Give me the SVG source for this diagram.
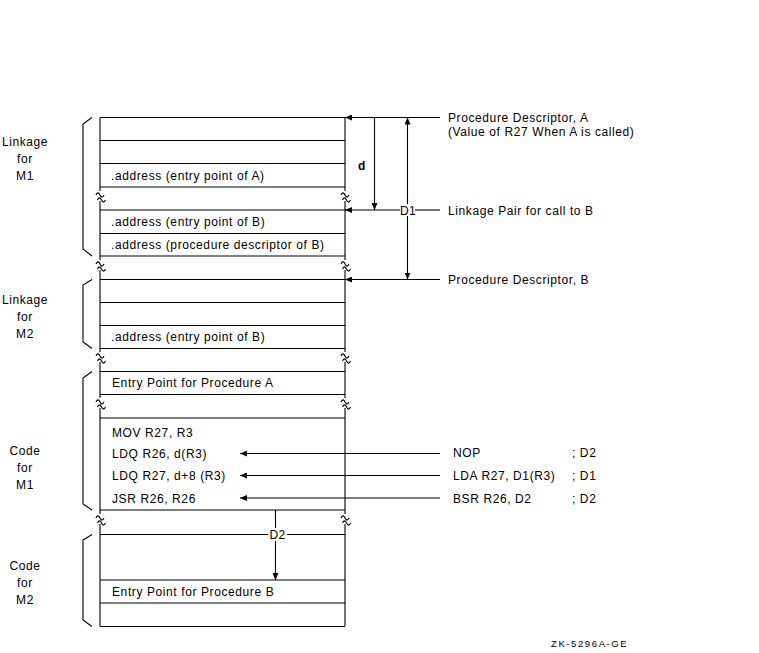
<svg xmlns="http://www.w3.org/2000/svg" width="759" height="653" viewBox="0 0 759 653">
<style>
  text { font-family: "Liberation Sans", Arial, sans-serif; font-size: 12px; fill: #000; letter-spacing: 0.6px; }
  .lbl { text-anchor: middle; }
  .ln { stroke: #000; stroke-width: 1.1; fill: none; }
  .id { font-size: 9.5px; letter-spacing: 1.6px; }
</style>
<defs>
  <marker id="ah" markerUnits="userSpaceOnUse" markerWidth="8" markerHeight="6" refX="7" refY="3" orient="auto">
    <path d="M0,0 L7,3 L0,6 z" fill="#000"/>
  </marker>
  <g id="brk" class="ln">
    <path d="M-4,8 c1.3,-2.8 2.7,-2.8 4,0 s2.7,2.8 4,0"/>
    <path d="M-2.5,13 c1.3,-2.8 2.7,-2.8 4,0 s2.7,2.8 4,0"/>
  </g>
</defs>
<rect width="759" height="653" fill="#fff"/>

<g id="memory">
  <g class="ln">
    <path d="M100,117.5H345 M100,140.5H345 M100,163.5H345 M100,187H345 M100,210H345 M100,233.5H345 M100,256H345 M100,279.5H345 M100,302.5H345 M100,325.5H345 M100,348.5H345 M100,371.5H345 M100,394.5H345 M100,418H345 M100,510H345 M100,580H345 M100,603H345 M100,626.5H345"/>
    <path d="M100,117.5V191 M100,201V260 M100,270V352 M100,362V398 M100,408V514 M100,524V626.5"/>
    <path d="M345,117.5V191 M345,201V260 M345,270V352 M345,362V398 M345,408V514 M345,524V626.5"/>
  </g>
  <use href="#brk" x="100" y="187"/>
  <use href="#brk" x="345" y="187"/>
  <use href="#brk" x="100" y="256"/>
  <use href="#brk" x="345" y="256"/>
  <use href="#brk" x="100" y="348"/>
  <use href="#brk" x="345" y="348"/>
  <use href="#brk" x="100" y="394"/>
  <use href="#brk" x="345" y="394"/>
  <use href="#brk" x="100" y="510"/>
  <use href="#brk" x="345" y="510"/>
  <text x="111" y="180">.address (entry point of A)</text>
  <text x="111" y="226">.address (entry point of B)</text>
  <text x="111" y="249">.address (procedure descriptor of B)</text>
  <text x="111" y="341">.address (entry point of B)</text>
  <text x="112" y="387">Entry Point for Procedure A</text>
  <text x="112" y="437">MOV R27, R3</text>
  <text x="112" y="457.5">LDQ R26, d(R3)</text>
  <text x="112" y="480">LDQ R27, d+8 (R3)</text>
  <text x="112" y="503">JSR R26, R26</text>
  <text x="112" y="596">Entry Point for Procedure B</text>
</g>

<g id="bracket-linkage-m1">
  <path class="ln" d="M92,117.5 L83,124 V249 L92,256"/>
  <text class="lbl" x="25" y="146">Linkage</text>
  <text class="lbl" x="25" y="163">for</text>
  <text class="lbl" x="25" y="180">M1</text>
</g>
<g id="bracket-linkage-m2">
  <path class="ln" d="M92,279.5 L83,285 V342 L92,348.5"/>
  <text class="lbl" x="25" y="304">Linkage</text>
  <text class="lbl" x="25" y="321">for</text>
  <text class="lbl" x="25" y="338">M2</text>
</g>
<g id="bracket-code-m1">
  <path class="ln" d="M92,371.5 L83,378 V504 L92,510"/>
  <text class="lbl" x="25" y="455">Code</text>
  <text class="lbl" x="25" y="472">for</text>
  <text class="lbl" x="25" y="489">M1</text>
</g>
<g id="bracket-code-m2">
  <path class="ln" d="M92,534.5 L83,540 V620 L92,626.5"/>
  <text class="lbl" x="25" y="570">Code</text>
  <text class="lbl" x="25" y="587">for</text>
  <text class="lbl" x="25" y="604">M2</text>
</g>

<g id="labels-right">
  <text x="448" y="122">Procedure Descriptor, A</text>
  <text x="448" y="135.5">(Value of R27 When A is called)</text>
  <text x="448" y="214.5">Linkage Pair for call to B</text>
  <text x="448" y="284">Procedure Descriptor, B</text>
  <text x="453" y="457">NOP</text>
  <text x="572" y="457">; D2</text>
  <text x="453" y="480">LDA R27, D1(R3)</text>
  <text x="572" y="480">; D1</text>
  <text x="453" y="503">BSR R26, D2</text>
  <text x="572" y="503">; D2</text>
  <text x="358" y="170" style="font-weight:bold">d</text>
  <text class="lbl" x="408" y="214.5" style="letter-spacing:0.3px">D1</text>
  <text class="lbl" x="277.5" y="538.5" style="letter-spacing:0.3px">D2</text>
</g>

<g id="connectors" class="ln">
  <path d="M440,117.5H345" marker-end="url(#ah)"/>
  <path d="M440,210H415"/>
  <path d="M400,210H345" marker-end="url(#ah)"/>
  <path d="M440,279.5H345" marker-end="url(#ah)"/>
  <path d="M374.5,117.5V210" marker-end="url(#ah)"/>
  <path d="M407.5,204V117.5" marker-end="url(#ah)"/>
  <path d="M407.5,216V279.5" marker-end="url(#ah)"/>
  <path d="M440,453.5H240" marker-end="url(#ah)"/>
  <path d="M440,475.5H240" marker-end="url(#ah)"/>
  <path d="M440,498H240" marker-end="url(#ah)"/>
  <path d="M100,534.5H268 M287,534.5H345"/>
  <path d="M275.5,510V528"/>
  <path d="M275.5,541V580" marker-end="url(#ah)"/>
</g>

<text class="id" x="551" y="647">ZK-5296A-GE</text>
</svg>
